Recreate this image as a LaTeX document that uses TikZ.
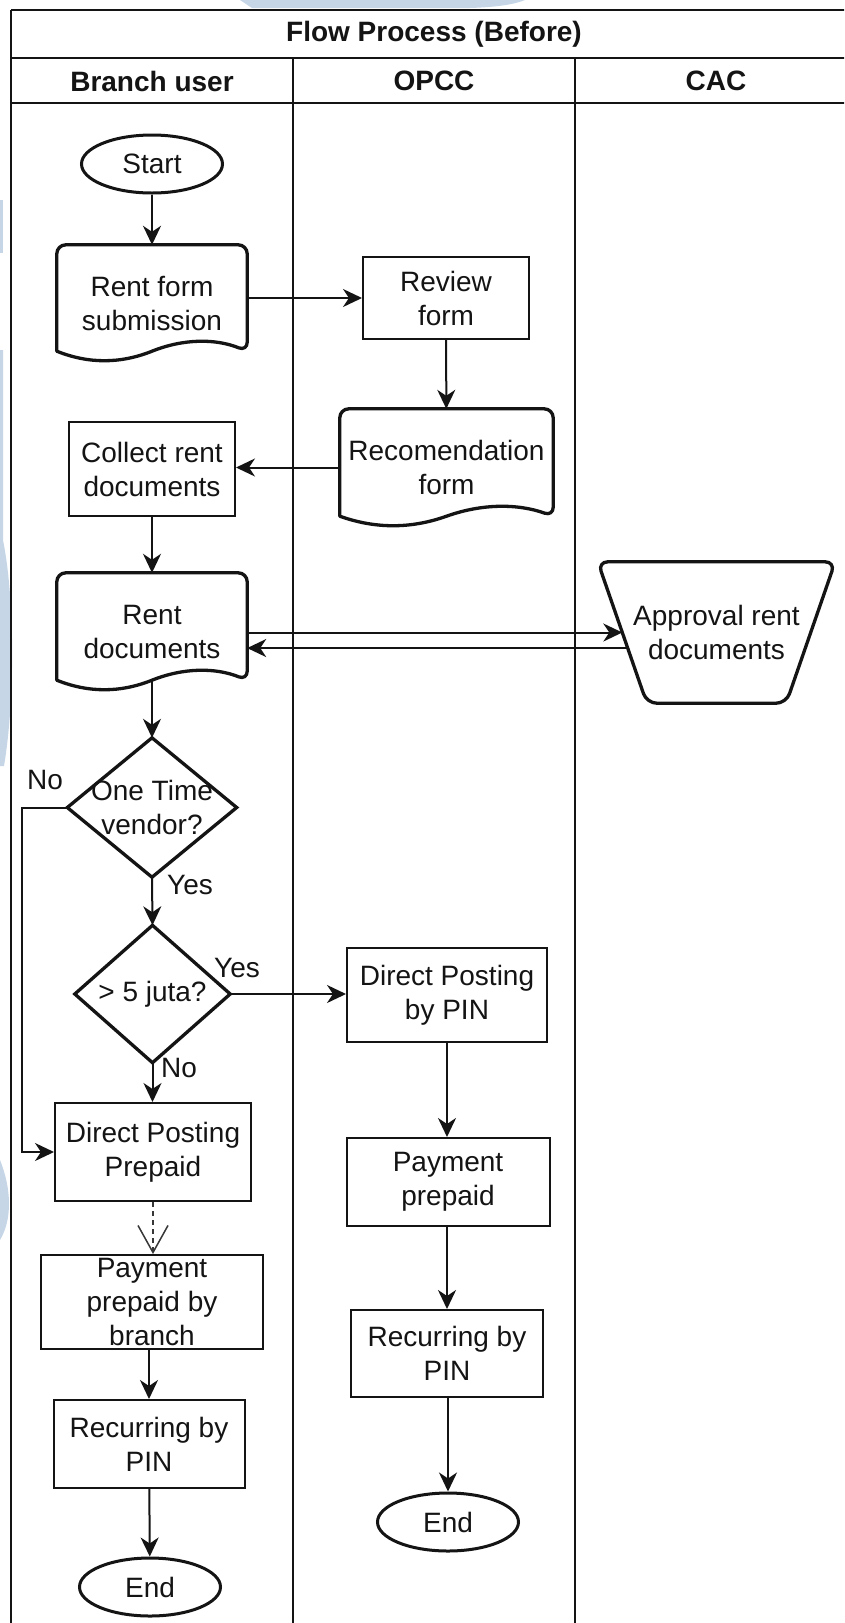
\documentclass[tikz,border=0pt]{standalone}
\usepackage{fontspec}
\setmainfont{Liberation Sans}
\usetikzlibrary{shapes.geometric,arrows.meta,calc}

\definecolor{ink}{HTML}{141414}
\definecolor{wmblue}{RGB}{198,214,230}

\newcommand{\chartfont}{\fontsize{28}{34}\selectfont}

% document symbol: rounded top corners, wavy bottom edge
\newcommand{\docoutline}[1]{%
  \draw[heavy,fill=white] ([yshift=10pt]#1.south west) [rounded corners=9pt]
    -- (#1.north west) -- (#1.north east) -- ([yshift=10pt]#1.south east) [sharp corners]
    .. controls ($(#1.south west)!5/6!(#1.south east)+(0pt,22.7pt)$)
            and ($(#1.south west)!2/3!(#1.south east)+(0pt,22.7pt)$) .. ([yshift=10pt]#1.south)
    .. controls ($(#1.south west)!1/3!(#1.south east)+(0pt,-2.7pt)$)
            and ($(#1.south west)!1/6!(#1.south east)+(0pt,-2.7pt)$) .. ([yshift=10pt]#1.south west)
    -- cycle;}

% decision symbol on the corners of a plain node
\newcommand{\decisionoutline}[1]{%
  \draw[heavy,line join=miter,fill=white] (#1.north) -- (#1.east) -- (#1.south) -- (#1.west) -- cycle;}

\begin{document}
\begin{tikzpicture}[x=1pt,y=-1pt,
  txt/.style={font=\chartfont, align=center, inner sep=0pt, text=ink},
  hdr/.style={txt, font=\chartfont\bfseries},
  box/.style={txt, draw=ink, fill=white, line width=2pt, rectangle},
  term/.style={txt, draw=ink, fill=white, line width=3pt, ellipse,
               minimum width=141pt, minimum height=58pt},
  bare/.style={txt, rectangle},
  heavy/.style={draw=ink, line width=3.3pt, line join=round},
  lanes/.style={draw=ink, line width=2.2pt},
  arr/.style={draw=ink, line width=2pt, -{Stealth[length=19pt,width=18pt,inset=6pt]}},
  dasharr/.style={draw=ink!85, line width=1.5pt, dash pattern=on 5pt off 4pt,
                  -{Straight Barb[length=27pt,width=30pt,line width=1.5pt]}},
]
\useasboundingbox (0,0) rectangle (844,1623);
\clip (0,0) rectangle (844,1623);
\fill[white] (0,0) rectangle (844,1623);

% faint background marks
\fill[wmblue] (240,0) -- (252,8) -- (470,8) .. controls (500,7) and (515,4) .. (525,0) -- cycle;
\fill[wmblue] (0,200) rectangle (3,253);
\fill[wmblue] (0,350) -- (3,350) -- (3,540) .. controls (15,600) and (15,700) .. (4,766) -- (0,766) -- cycle;
\fill[wmblue] (0,1160) .. controls (12,1190) and (12,1220) .. (0,1240) -- cycle;

% swimlane frame
\draw[lanes] (11,10) -- (857,10);
\draw[lanes] (11,10) -- (11,1640);
\draw[lanes] (857,10) -- (857,1640);
\draw[lanes] (11,58) -- (857,58);
\draw[lanes] (11,103) -- (857,103);
\draw[lanes] (293,58) -- (293,1640);
\draw[lanes] (575,58) -- (575,1640);

\node[hdr] (title) at (434,34) {Flow Process (Before)};
\node[hdr] (laneA) at (152,81) {Branch user};
\node[hdr] (laneB) at (434,81) {OPCC};
\node[hdr] (laneC) at (716,81) {CAC};

% Branch user lane
\node[term] (start) at (152,164) {Start};
\node[bare, minimum width=190pt, minimum height=116pt] (rentform) at (152,303) {Rent form\\submission};
\docoutline{rentform}
\node[txt] at (rentform) {Rent form\\submission};
\node[box, minimum width=166pt, minimum height=94pt] (collect) at (152,469) {Collect rent\\documents};
\node[bare, minimum width=190pt, minimum height=117pt] (rentdocs) at (152,631.5) {Rent\\documents};
\docoutline{rentdocs}
\node[txt] at (rentdocs) {Rent\\documents};
\node[bare, minimum width=169pt, minimum height=139pt] (onetime) at (152,807.5) {};
\decisionoutline{onetime}
\node[txt] at (onetime) {One Time\\vendor?};
\node[bare, minimum width=155pt, minimum height=137pt] (juta) at (152.5,994) {};
\decisionoutline{juta}
\node[txt] at (juta) {> 5 juta?};
\node[box, minimum width=196pt, minimum height=98pt] (dpp) at (153,1152) {Direct Posting\\Prepaid};
\node[box, minimum width=222pt, minimum height=94pt] (payb) at (152,1302) {Payment\\prepaid by\\branch};
\node[box, minimum width=191pt, minimum height=88pt] (recb) at (149,1444) {Recurring by\\PIN};
\node[term] (endb) at (150,1587) {End};

% OPCC lane
\node[box, minimum width=166pt, minimum height=82pt] (review) at (446,298) {Review\\form};
\node[bare, minimum width=213pt, minimum height=117pt] (recom) at (446.5,467.5) {Recomendation\\form};
\docoutline{recom}
\node[txt] at (recom) {Recomendation\\form};
\node[box, minimum width=200pt, minimum height=94pt] (dppin) at (447,995) {Direct Posting\\by PIN};
\node[box, minimum width=203pt, minimum height=88pt] (payp) at (448,1182) {Payment\\prepaid};
\node[box, minimum width=192pt, minimum height=87pt] (recp) at (447,1353.5) {Recurring by\\PIN};
\node[term] (endp) at (448,1522) {End};

% CAC lane
\node[bare, minimum width=237pt, minimum height=141pt] (appr) at (716.5,632.5) {};
\draw[heavy,fill=white,rounded corners=10pt] (appr.north west) -- (appr.north east)
  -- ([xshift=-49pt]appr.south east) -- ([xshift=49pt]appr.south west) -- cycle;
\node[txt] at (appr) {Approval rent\\documents};
\coordinate (apin) at ($(appr.north west)!0.5!([xshift=49pt]appr.south west)$);
\coordinate (apout) at ($(appr.north west)!0.61!([xshift=49pt]appr.south west)$);
\coordinate (nobend) at (22,807.5);

% connectors
\draw[arr] (start) -- (rentform);
\draw[arr] (rentform.east |- review.west) -- (review.west);
\draw[arr] (review) -- (recom);
\draw[arr] (recom.west) -- (collect.east |- recom.west);
\draw[arr] (collect) -- (rentdocs);
\draw[arr] (rentdocs.east |- apin) -- (apin);
\draw[arr] (apout) -- (rentdocs.east |- apout);
\draw[arr] ([yshift=10pt]rentdocs.south) -- (onetime.north);
\draw[arr] (onetime.south) -- (juta.north);
\draw[arr] (onetime.west) -- (nobend) |- (dpp.west);
\draw[arr] (juta.east) -- (juta.east -| dppin.west);
\draw[arr] (juta.south) -- (juta.south |- dpp.north);
\draw[dasharr] (dpp) -- (dpp |- payb.north);
\draw[arr] (payb.south -| recb.north) -- (recb.north);
\draw[arr] (recb) -- (endb);
\draw[arr] (dppin) -- (dppin |- payp.north);
\draw[arr] (payp.south -| recp.north) -- (recp.north);
\draw[arr] (recp.south -| endp.north) -- (endp.north);

% branch labels
\node[txt] (noA) at (45,780) {No};
\node[txt] (yesA) at (190,885) {Yes};
\node[txt] (yesB) at (237,968) {Yes};
\node[txt] (noB) at (179,1068) {No};
\end{tikzpicture}
\end{document}
